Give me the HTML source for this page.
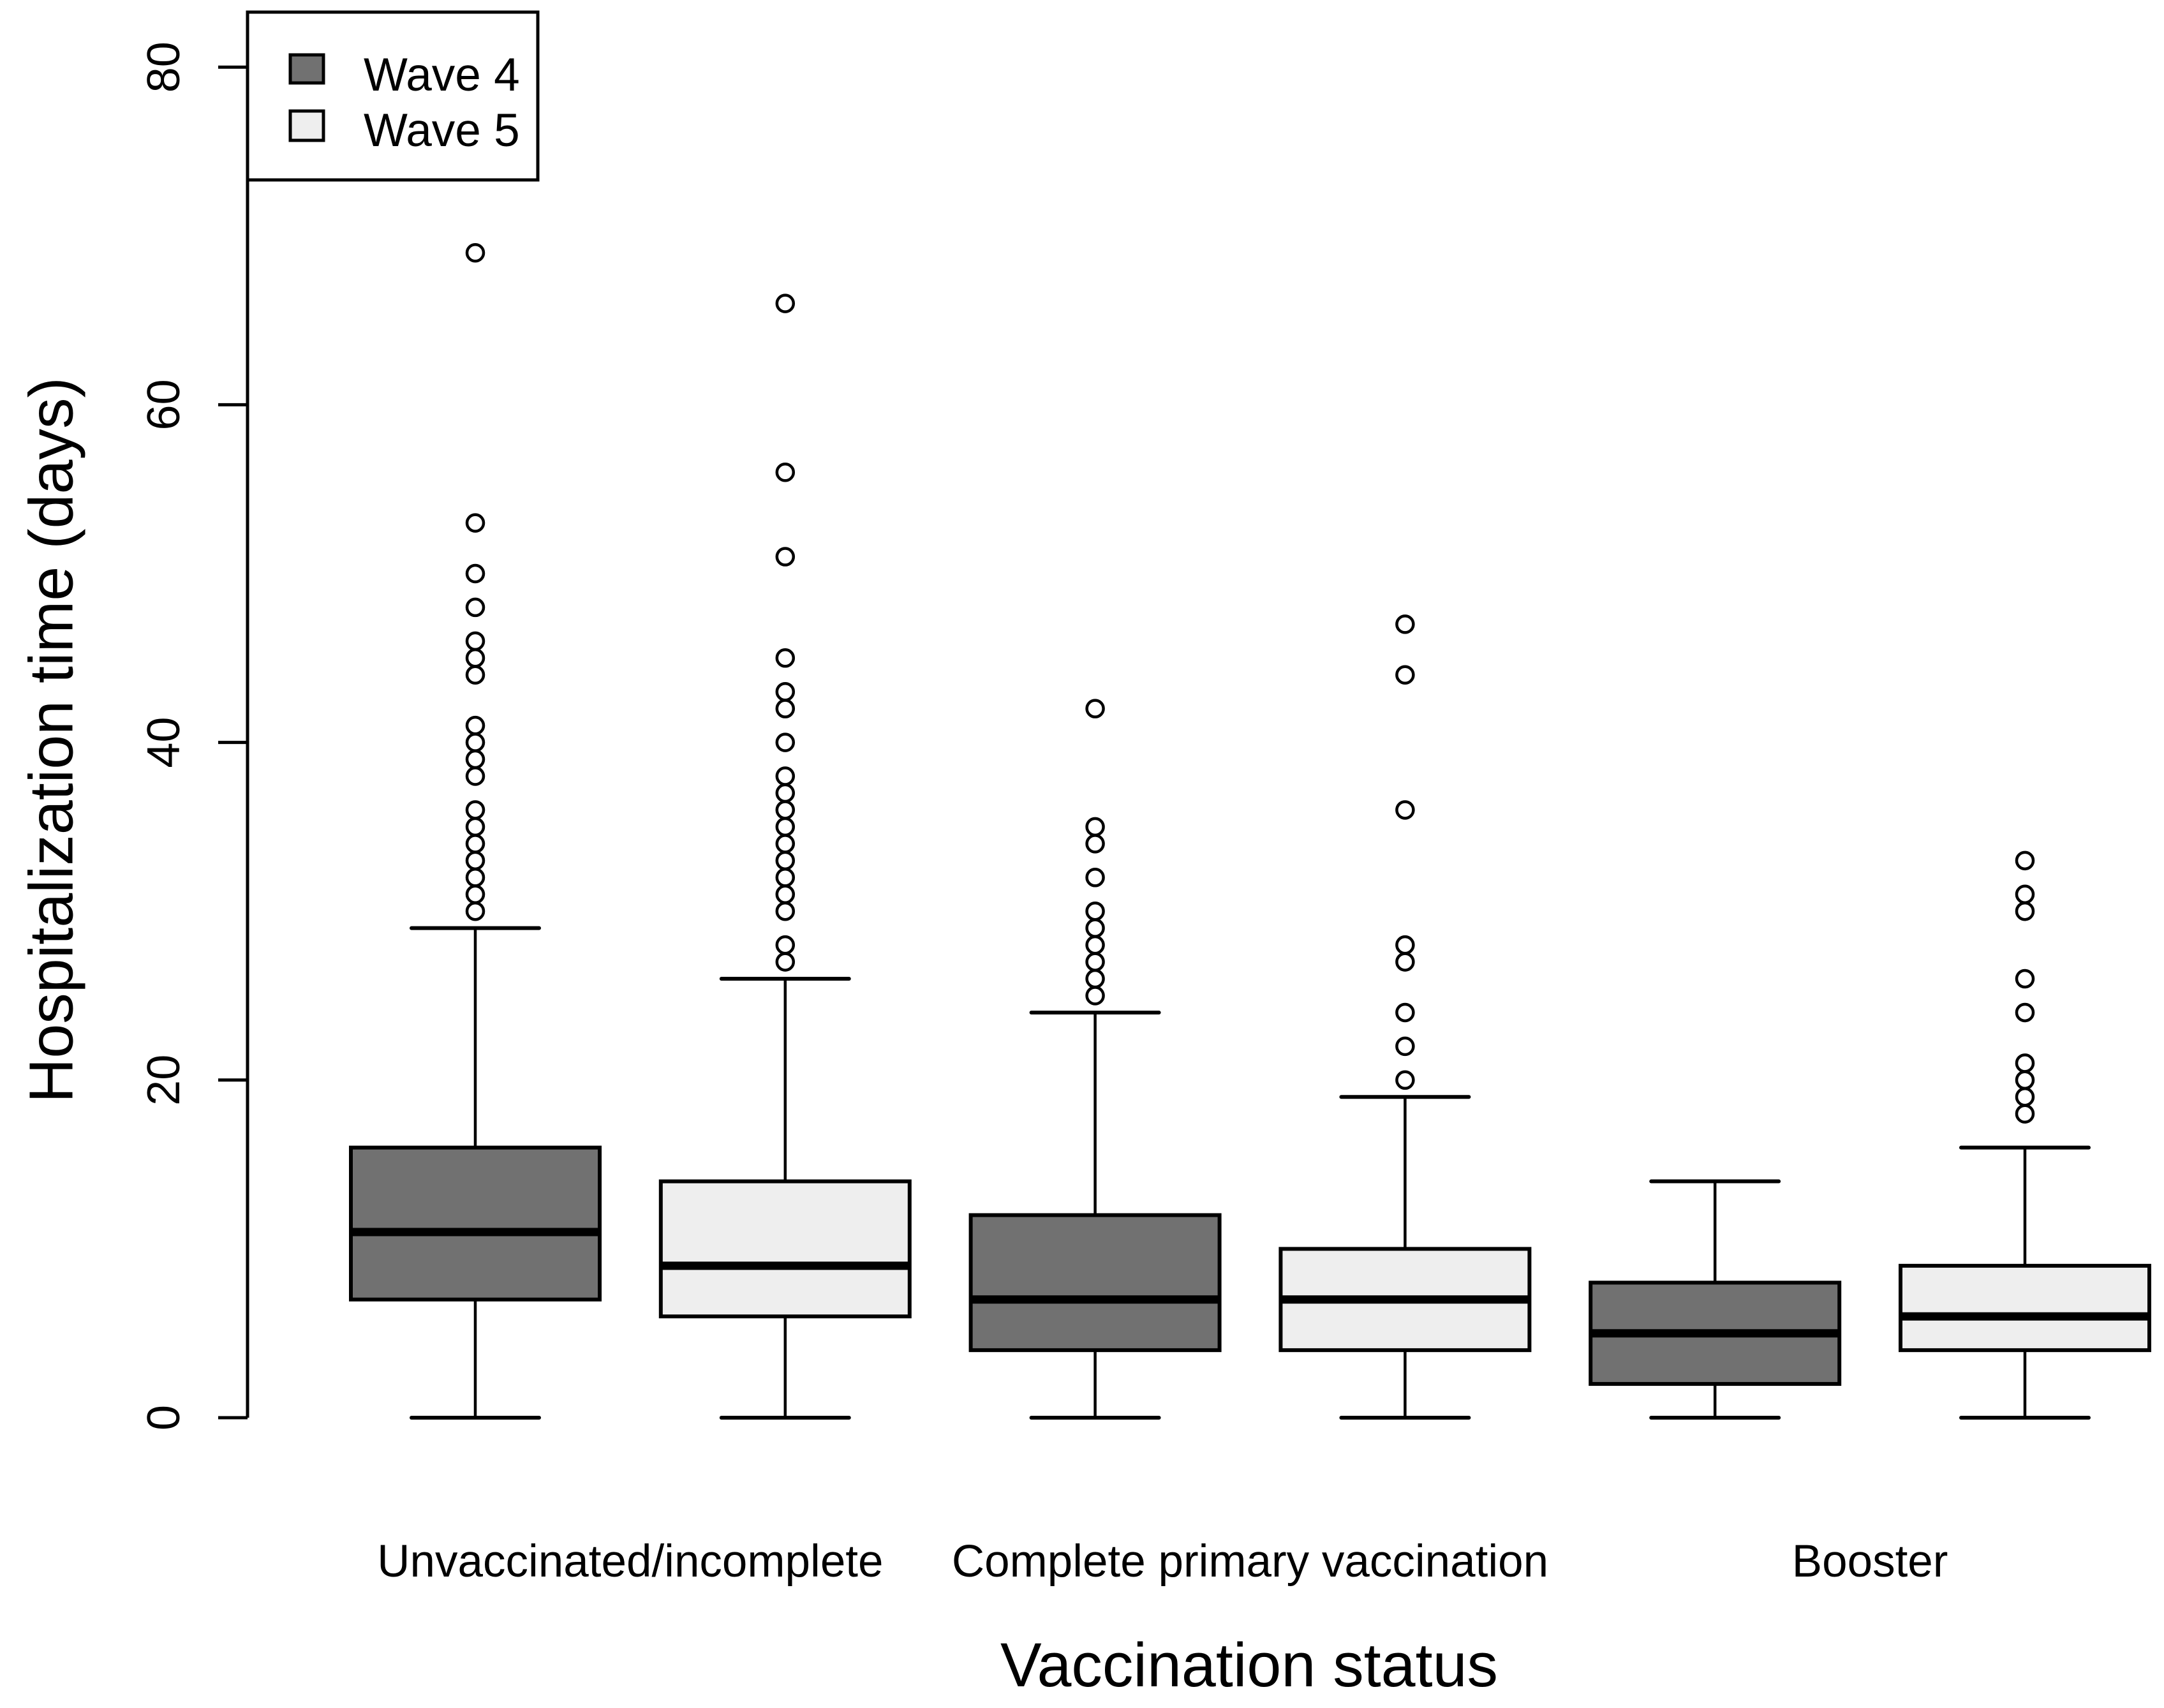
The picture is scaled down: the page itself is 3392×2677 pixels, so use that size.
<!DOCTYPE html>
<html><head><meta charset="utf-8"><style>
html,body{margin:0;padding:0;background:#fff;}
svg{display:block;font-family:"Liberation Sans",Arial,sans-serif;}
</style></head><body>
<svg id="chart" width="3392" height="2677" viewBox="0 0 3392 2677" xmlns="http://www.w3.org/2000/svg">
<rect width="3392" height="2677" fill="#fff"/>
<g id="axes"></g>
<g id="boxes"></g>
<text x="80" y="1160" font-size="97" text-anchor="middle" transform="rotate(-90 80 1160)" dominant-baseline="central">Hospitalization time (days)</text>
<text x="1958" y="2643" font-size="97" text-anchor="middle">Vaccination status</text>
<g>
<rect x="388" y="19" width="455" height="263" fill="#fff" stroke="#000" stroke-width="5"/>
<rect x="455" y="86" width="52" height="44" fill="#717171" stroke="#000" stroke-width="5"/>
<text x="570" y="142" font-size="73">Wave 4</text>
<rect x="455" y="174" width="52" height="46" fill="#eeeeee" stroke="#000" stroke-width="5"/>
<text x="570" y="229" font-size="73">Wave 5</text>
</g>
</svg>
<script>
const groupLabels = ["Unvaccinated/incomplete", "Complete primary vaccination", "Booster"];
const waves = ["Wave 4", "Wave 5", "Wave 4", "Wave 5", "Wave 4", "Wave 5"];
const mins = [0, 0, 0, 0, 0, 0];
const q1s = [7, 6, 4, 4, 2, 4];
const medians = [11, 9, 7, 7, 5, 6];
const q3s = [16, 14, 12, 10, 8, 9];
const maxs = [29, 26, 24, 19, 14, 16];
const outliers = [
  [30,31,32,33,34,35,36,38,39,40,41,44,45,46,48,50,53,69],
  [27,28,30,31,32,33,34,35,36,37,38,40,42,43,45,51,56,66],
  [25,26,27,28,29,30,32,34,35,42],
  [20,22,24,27,28,36,44,47],
  [],
  [18,19,20,21,24,26,30,31,33]
];
const yTicks = [0, 20, 40, 60, 80];

const NS = "http://www.w3.org/2000/svg";
const Y0 = 2222, PXU = 26.46;
function yS(v){ return Y0 - v * PXU; }
function xS(i){ return 745 + i * 485.8; }
function mk(tag, attrs, parent){
  const e = document.createElementNS(NS, tag);
  for (const k in attrs) e.setAttribute(k, attrs[k]);
  parent.appendChild(e);
  return e;
}
const axes = document.getElementById("axes");
const boxes = document.getElementById("boxes");

const yAxis = mk("line", {x1:388, x2:388, y1:yS(yTicks[0]), y2:yS(yTicks[yTicks.length-1]), stroke:"#000", "stroke-width":5}, axes);


yTicks.forEach(t => {
  const tk = mk("line", {x1:342, x2:388, y1:yS(t), y2:yS(t), stroke:"#000", "stroke-width":5}, axes);
  
  
  const lb = mk("text", {x:257, y:yS(t), "font-size":72, "text-anchor":"middle", "dominant-baseline":"central", transform:`rotate(-90 257 ${yS(t)})`}, axes);
  lb.textContent = t;
  
  
});
groupLabels.forEach((g, i) => {
  const cx = (xS(2*i) + xS(2*i+1)) / 2;
  const lb = mk("text", {x:cx, y:2471, "font-size":71, "text-anchor":"middle"}, axes);
  lb.textContent = g;
  
  
});

const HW = 195, CW = 100;
medians.forEach((m, i) => {
  const cx = xS(i);
  const fill = waves[i] === "Wave 4" ? "#717171" : "#eeeeee";
  const g = mk("g", {}, boxes);
  
  
  mk("line", {x1:cx, x2:cx, y1:yS(q3s[i]), y2:yS(maxs[i]), stroke:"#000", "stroke-width":4.5}, g);
  mk("line", {x1:cx, x2:cx, y1:yS(q1s[i]), y2:yS(mins[i]), stroke:"#000", "stroke-width":4.5}, g);
  mk("line", {x1:cx-CW, x2:cx+CW, y1:yS(maxs[i]), y2:yS(maxs[i]), stroke:"#000", "stroke-width":6, "stroke-linecap":"round"}, g);
  mk("line", {x1:cx-CW, x2:cx+CW, y1:yS(mins[i]), y2:yS(mins[i]), stroke:"#000", "stroke-width":6, "stroke-linecap":"round"}, g);
  const r = mk("rect", {x:cx-HW, y:yS(q3s[i]), width:2*HW, height:yS(q1s[i])-yS(q3s[i]), fill:fill, stroke:"#000", "stroke-width":6}, g);
  
  
  const md = mk("line", {x1:cx-HW, x2:cx+HW, y1:yS(m), y2:yS(m), stroke:"#000", "stroke-width":13}, g);
  
  
  outliers[i].forEach(o => {
    const c = mk("circle", {cx:cx, cy:yS(o), r:13, fill:"none", stroke:"#000", "stroke-width":4.5}, g);
    
    
  });
});
</script>
</body></html>
